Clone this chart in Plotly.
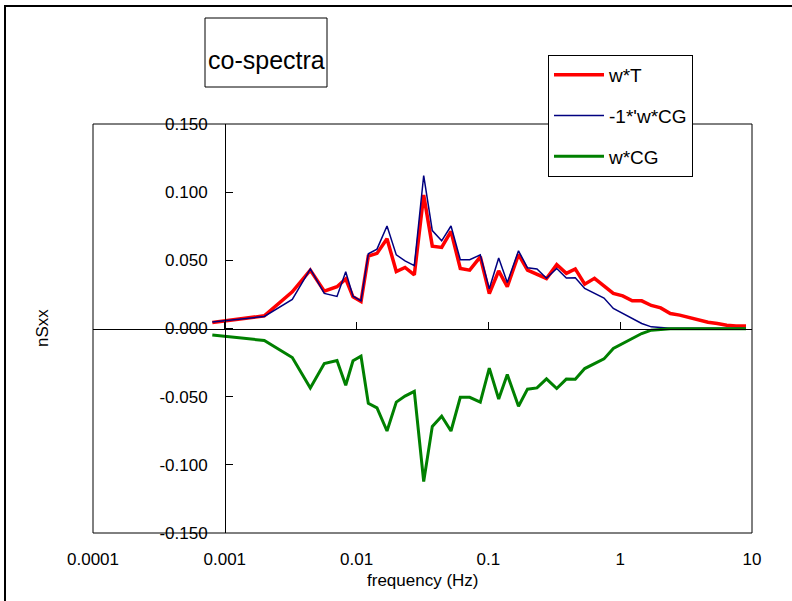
import plotly.graph_objects as go

# Frequency bins (Hz)
freq = [0.000804, 0.001994, 0.003251, 0.004454, 0.005687, 0.007100, 0.008270, 0.009391,
        0.01080, 0.01227, 0.01428, 0.01701, 0.02001, 0.02330, 0.02741, 0.03229,
        0.03753, 0.04421, 0.05203, 0.06120, 0.07213, 0.08679, 0.1016, 0.1197,
        0.1391, 0.1692, 0.1980, 0.2337, 0.2759, 0.3298, 0.3901, 0.4563,
        0.5378, 0.6383, 0.7535, 0.8867, 1.045, 1.235, 1.456, 1.722,
        2.029, 2.400, 2.828, 3.344, 3.941, 4.637, 5.455, 6.429, 7.561, 9.005]

# Normalised co-spectra
w_T = [0.0044, 0.0093, 0.0269, 0.0428, 0.0274, 0.0306, 0.0364, 0.0232,
       0.0198, 0.0531, 0.0551, 0.0658, 0.0418, 0.0448, 0.0394, 0.0979,
       0.0604, 0.0595, 0.0712, 0.0440, 0.0428, 0.0526, 0.0257, 0.0423,
       0.0306, 0.0543, 0.0428, 0.0399, 0.0367, 0.0468, 0.0404, 0.0437,
       0.0325, 0.0368, 0.0310, 0.0257, 0.0239, 0.0203, 0.0203, 0.0169,
       0.0151, 0.0110, 0.0098, 0.0081, 0.0068, 0.0046, 0.0037, 0.0024, 0.0019, 0.0019]

neg_w_CG = [0.0047, 0.0088, 0.0213, 0.0437, 0.0257, 0.0235, 0.0416, 0.0237,
            0.0203, 0.0548, 0.0582, 0.0752, 0.0540, 0.0496, 0.0461, 0.1122,
            0.0718, 0.0643, 0.0752, 0.0505, 0.0505, 0.0540, 0.0291, 0.0517,
            0.0337, 0.0570, 0.0445, 0.0436, 0.0369, 0.0440, 0.0371, 0.0372,
            0.0294, 0.0257, 0.0223, 0.0147, 0.0110, 0.0073, 0.0037, 0.0012,
            0.0004, 0.0001, 0.0001, 0.0001, 0.0001, 0.0001, 0.0001, 0.0001, 0.0001, 0.0001]

w_CG = [-0.0047, -0.0088, -0.0213, -0.0437, -0.0257, -0.0235, -0.0416, -0.0237,
        -0.0203, -0.0548, -0.0582, -0.0752, -0.0540, -0.0496, -0.0461, -0.1122,
        -0.0718, -0.0643, -0.0752, -0.0505, -0.0505, -0.0540, -0.0291, -0.0517,
        -0.0337, -0.0570, -0.0445, -0.0436, -0.0369, -0.0440, -0.0371, -0.0372,
        -0.0294, -0.0257, -0.0223, -0.0147, -0.0110, -0.0073, -0.0037, -0.0012,
        -0.0004, -0.0001, -0.0001, -0.0001, -0.0001, -0.0001, -0.0001, -0.0001, -0.0001, -0.0001]

x_ticks = [0.0001, 0.001, 0.01, 0.1, 1, 10]
x_ticktext = ["0.0001", "0.001", "0.01", "0.1", "1", "10"]
y_ticks = [-0.15, -0.10, -0.05, 0.0, 0.05, 0.10, 0.15]
y_ticktext = ["-0.150", "-0.100", "-0.050", "0.000", "0.050", "0.100", "0.150"]

FONT = "Liberation Sans, Arial, sans-serif"

fig = go.Figure()
fig.add_trace(go.Scatter(x=freq, y=w_T, mode="lines", name="w*T",
                         line=dict(color="#FF0000", width=3.5), legendgroup="a"))
fig.add_trace(go.Scatter(x=freq, y=neg_w_CG, mode="lines", name="-1*'w*CG",
                         line=dict(color="#000080", width=1.5), legendgroup="b"))
fig.add_trace(go.Scatter(x=freq, y=w_CG, mode="lines", name="w*CG",
                         line=dict(color="#008000", width=3), legendgroup="c"))
# carrier for the secondary x axis drawn along y = 0
fig.add_trace(go.Scatter(x=[None], y=[None], xaxis="x2", yaxis="y",
                         showlegend=False, hoverinfo="skip"))

W, H = 792, 601
L, R, T, B = 93, 40, 124, 68
pw, ph = W - L - R, H - T - B


def px(x):
    return (x - L) / pw


def py(y):
    return (H - B - y) / ph


fig.update_layout(
    width=W, height=H,
    margin=dict(l=L, r=R, t=T, b=B),
    paper_bgcolor="white", plot_bgcolor="white",
    font=dict(family=FONT, size=17, color="black"),
    xaxis=dict(type="log", range=[-4, 1], tickvals=x_ticks, ticktext=x_ticktext,
               showgrid=False, zeroline=False, showline=False, ticks="",
               ticklabelstandoff=14, tickfont=dict(size=17)),
    xaxis2=dict(type="log", range=[-4, 1], overlaying="x", anchor="free", position=0.5,
                side="bottom", tickvals=x_ticks, showticklabels=False,
                ticks="inside", ticklen=7, tickcolor="black", tickwidth=1,
                showline=True, linecolor="black", linewidth=1,
                showgrid=False, zeroline=False),
    yaxis=dict(range=[-0.15, 0.15], tickvals=y_ticks, ticktext=y_ticktext,
               anchor="free", position=px(225), side="left",
               ticks="inside", ticklen=7, tickcolor="black", tickwidth=1,
               showline=True, linecolor="black", linewidth=1,
               showgrid=False, zeroline=False, ticklabelstandoff=14,
               tickfont=dict(size=17)),
    legend=dict(x=px(548), y=py(55), xanchor="left", yanchor="top",
                bordercolor="black", borderwidth=1, bgcolor="white",
                font=dict(size=19), traceorder="grouped", tracegroupgap=13,
                itemwidth=50),
    shapes=[
        dict(type="rect", xref="paper", yref="paper", x0=px(5), x1=px(800),
             y0=py(610), y1=py(6), line=dict(color="black", width=2)),
        dict(type="rect", xref="paper", yref="paper", x0=0, x1=1, y0=0, y1=1,
             line=dict(color="black", width=1)),
        dict(type="rect", xref="paper", yref="paper", x0=px(205), x1=px(327),
             y0=py(87), y1=py(18), line=dict(color="black", width=1),
             fillcolor="white"),
    ],
    annotations=[
        dict(text="co-spectra", xref="paper", yref="paper", x=px(266), y=py(60),
             xanchor="center", yanchor="middle", showarrow=False,
             font=dict(size=25, family=FONT)),
        dict(text="nSxx", xref="paper", yref="paper", x=px(42), y=py(328),
             xanchor="center", yanchor="middle",
             textangle=-90, showarrow=False, font=dict(size=17)),
        dict(text="frequency (Hz)", xref="paper", yref="paper", x=0.5, y=py(580),
             xanchor="center", yanchor="middle", showarrow=False,
             font=dict(size=17)),
    ],
)

fig.write_html("out.html")
